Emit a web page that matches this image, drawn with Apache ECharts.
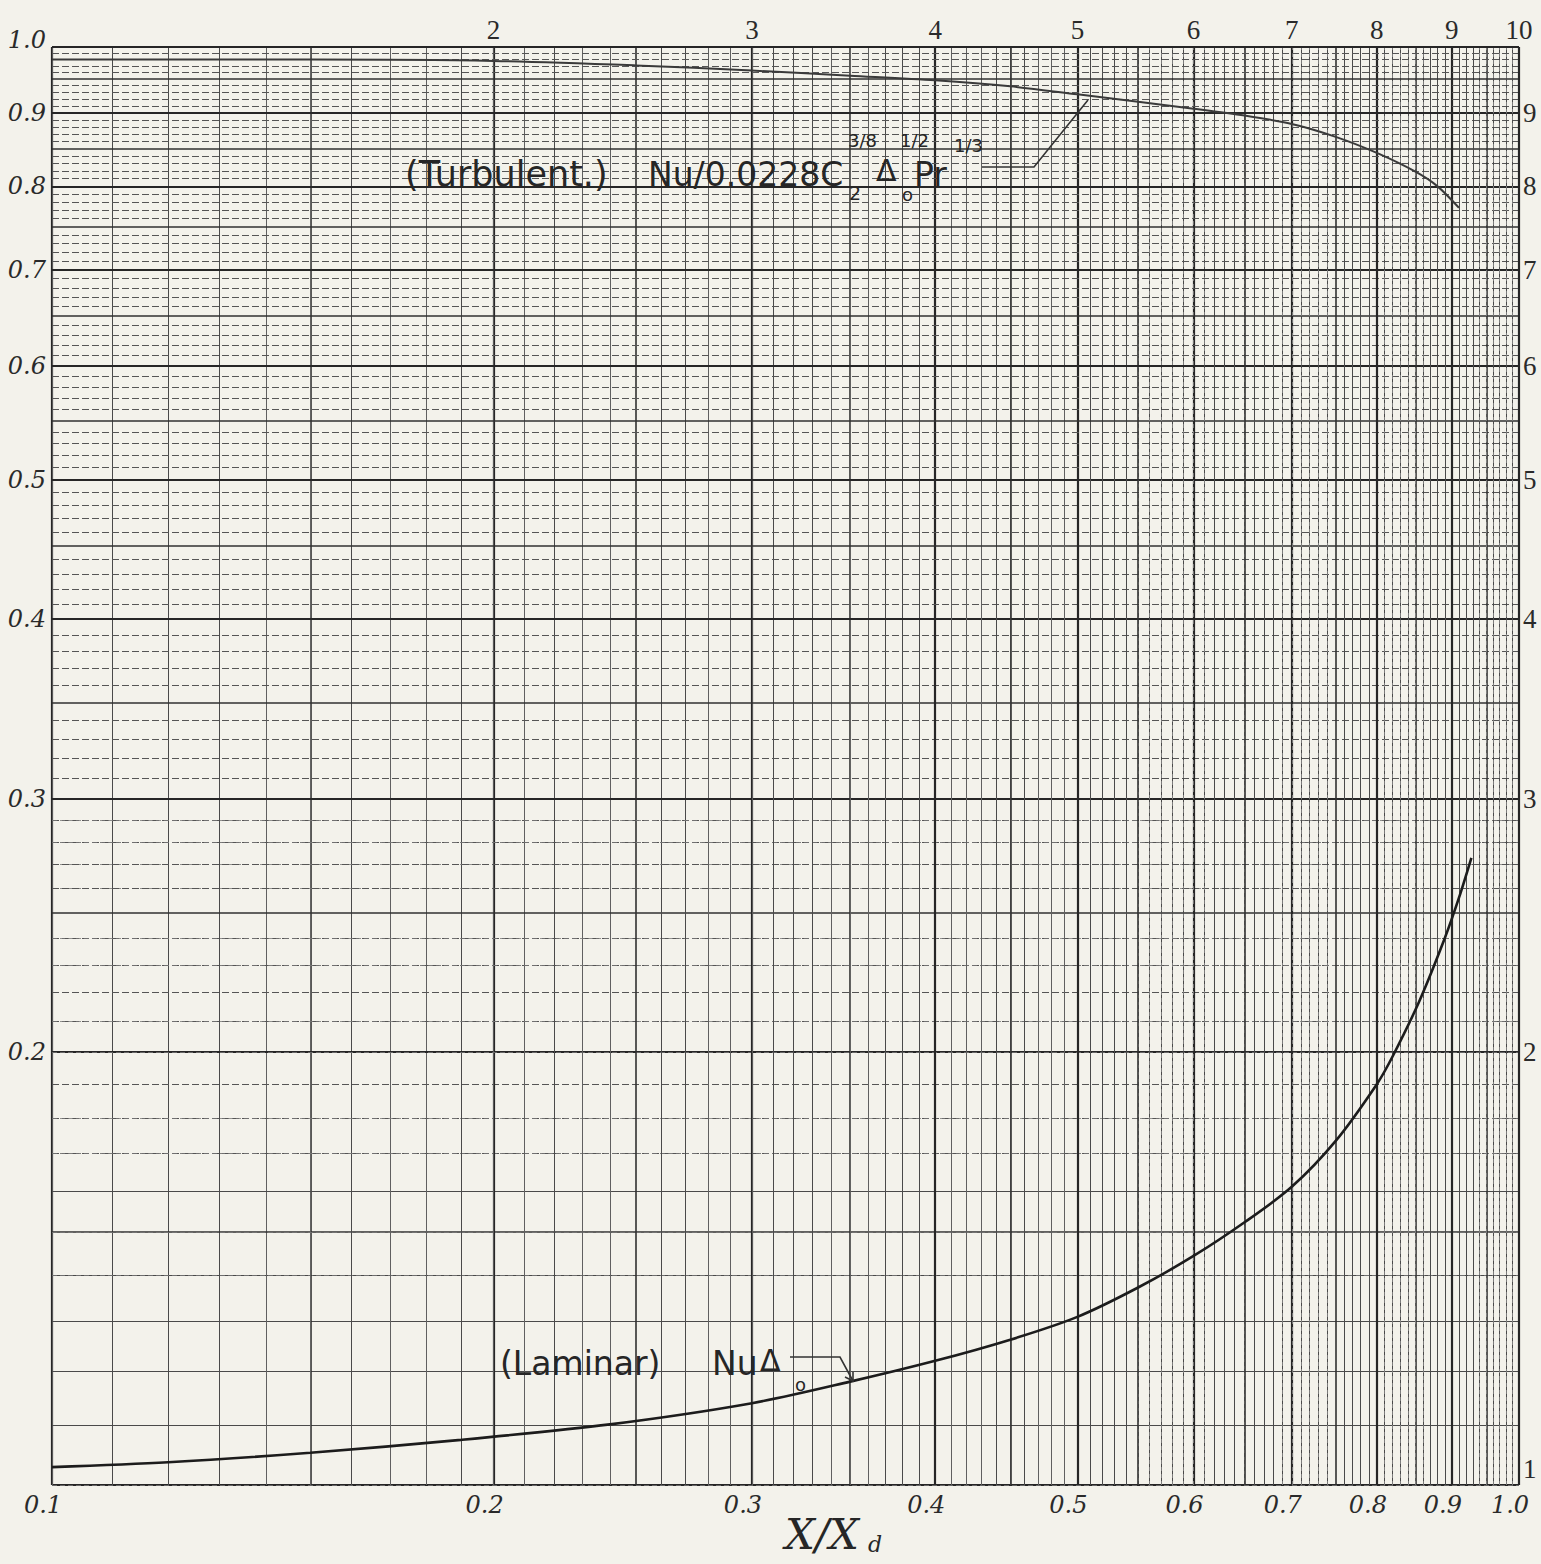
<!DOCTYPE html>
<html>
<head>
<meta charset="utf-8">
<title>Nu vs X/Xd</title>
<script src="https://cdn.jsdelivr.net/npm/echarts@6/dist/echarts.min.js"></script>
<style>
  html, body { margin: 0; padding: 0; background: #f3f2eb; }
  #chart { width: 1541px; height: 1564px; }
</style>
</head>
<body>
<div id="chart"></div>
<script>
// tick values + labels (bottom is hand written x/xd, top is the printed 1..10 scale)
var xTicks = [0.1, 0.2, 0.3, 0.4, 0.5, 0.6, 0.7, 0.8, 0.9, 1.0];
var xBottomLabels = ['0.1', '0.2', '0.3', '0.4', '0.5', '0.6', '0.7', '0.8', '0.9', '1.0'];
var xTopLabels = ['', '2', '3', '4', '5', '6', '7', '8', '9', '10'];
var yTicks = [0.1, 0.2, 0.3, 0.4, 0.5, 0.6, 0.7, 0.8, 0.9, 1.0];
var yLeftLabels = ['', '0.2', '0.3', '0.4', '0.5', '0.6', '0.7', '0.8', '0.9', '1.0'];
var yRightLabels = ['1', '2', '3', '4', '5', '6', '7', '8', '9', ''];

// curves
var turbX = [0.1, 0.15, 0.2, 0.25, 0.3, 0.35, 0.4, 0.45, 0.5, 0.55, 0.6, 0.65, 0.7, 0.75, 0.8, 0.85, 0.88, 0.91];
var turbY = [0.980, 0.980, 0.978, 0.971, 0.963, 0.955, 0.948, 0.939, 0.927, 0.916, 0.906, 0.896, 0.884, 0.866, 0.844, 0.819, 0.800, 0.773];
var lamX = [0.1, 0.12, 0.15, 0.19, 0.24, 0.3, 0.35, 0.4, 0.45, 0.5, 0.55, 0.6, 0.65, 0.7, 0.75, 0.8, 0.82, 0.855, 0.89, 0.91, 0.928];
var lamY = [0.1029, 0.1037, 0.1053, 0.1075, 0.1102, 0.1140, 0.1180, 0.1220, 0.1262, 0.1309, 0.1372, 0.1443, 0.1523, 0.1612, 0.1735, 0.1900, 0.1986, 0.2169, 0.2400, 0.2560, 0.2730];

function zip(a, b) {
  return a.map(function (v, i) { return [v, b[i]]; });
}

var handFont = { fontFamily: 'DejaVu Serif', fontStyle: 'italic', fontSize: 24, color: '#2a2a2a' };
var printFont = { fontFamily: 'Liberation Serif', fontSize: 27, color: '#2a2a2a' };
var hidden = { color: 'rgba(0,0,0,0)', width: 0 };

// graph paper rulings, k in thousandths
function rulingStyle(k, horizontal) {
  if (k % 100 === 0) return { color: '#262626', width: 2.2, type: 'solid' };
  if (k % 50 === 0) return { color: '#303030', width: 1.6, type: 'solid' };
  if (k % 10 === 0) {
    if (!horizontal || k < 170) return { color: '#4a4a4a', width: 1, type: 'solid' };
    return { color: '#555', width: 1, type: [7, 3] };
  }
  if (horizontal) return k < 300 ? { color: '#777', width: 0.8, type: [5, 3] } : null;
  if (k < 500) return { color: '#666', width: 0.8, type: 'solid' };
  return { color: '#888', width: 0.8, type: [4, 3] };
}

var rules = [];
for (var k = 100; k <= 1000; k += 5) {
  var sx = rulingStyle(k, false);
  if (sx) rules.push({ xAxis: k / 1000, lineStyle: sx });
  var sy = rulingStyle(k, true);
  if (sy) rules.push({ yAxis: k / 1000, lineStyle: sy });
}

function lbl(pos, text, font, distance, offset) {
  return Object.assign({ show: true, position: pos, formatter: text, distance: distance, offset: offset || [0, 0] }, font);
}

xTicks.forEach(function (v, i) {
  rules.push({ xAxis: v, lineStyle: hidden, label: lbl('start', xBottomLabels[i], handFont, 8, [-9, 0]) });
  if (xTopLabels[i]) {
    rules.push({ xAxis: v, lineStyle: hidden, label: lbl('end', xTopLabels[i], printFont, 4) });
  }
});
yTicks.forEach(function (v, i) {
  if (yLeftLabels[i]) {
    rules.push({ yAxis: v, lineStyle: hidden, label: lbl('start', yLeftLabels[i], handFont, 6, i === 9 ? [0, -7] : null) });
  }
  if (yRightLabels[i]) {
    rules.push({ yAxis: v, lineStyle: hidden, label: lbl('end', yRightLabels[i], printFont, 4, i === 0 ? [0, -16] : null) });
  }
});

function note(x, y, text, size, extra) {
  return {
    type: 'text', x: x, y: y, z: 10, silent: true,
    style: Object.assign({ text: text, fontFamily: 'DejaVu Sans', fontSize: size, fill: '#262626', verticalAlign: 'middle' }, extra || {})
  };
}
function leader(points) {
  return { type: 'polyline', z: 10, silent: true, shape: { points: points }, style: { stroke: '#333', lineWidth: 1.6, fill: null } };
}
var titleFont = { fontFamily: 'DejaVu Serif', fontStyle: 'italic' };

var myChart = echarts.init(document.getElementById('chart'), null, { renderer: 'svg' });
var option = {
  backgroundColor: '#f3f2eb',
  animation: false,
  grid: { left: 52, top: 47, width: 1467, height: 1438 },
  xAxis: {
    type: 'log', logBase: 10, min: 0.1, max: 1,
    axisLine: { show: false }, axisTick: { show: false }, axisLabel: { show: false }, splitLine: { show: false }
  },
  yAxis: {
    type: 'log', logBase: 10, min: 0.1, max: 1,
    axisLine: { show: false }, axisTick: { show: false }, axisLabel: { show: false }, splitLine: { show: false }
  },
  series: [
    {
      name: 'rulings', type: 'line', data: [], silent: true,
      markLine: {
        silent: true, symbol: ['none', 'none'], animation: false, z: 1,
        label: { show: false }, emphasis: { disabled: true },
        data: rules
      }
    },
    {
      name: 'Turbulent', type: 'line', data: zip(turbX, turbY), z: 3,
      smooth: 0.3, showSymbol: false, silent: true,
      lineStyle: { color: '#3a3a3a', width: 2 }
    },
    {
      name: 'Laminar', type: 'line', data: zip(lamX, lamY), z: 3,
      smooth: 0.3, showSymbol: false, silent: true,
      lineStyle: { color: '#1c1c1c', width: 2.6 }
    }
  ],
  graphic: [
    // turbulent label
    note(405, 174, '(Turbulent.)', 35),
    note(648, 174, 'Nu/0.0228C', 33),
    note(848, 140, '3/8', 18),
    note(849, 193, '2', 19),
    note(876, 170, 'Δ', 30),
    note(900, 140, '1/2', 18),
    note(902, 194, 'o', 18),
    note(914, 174, 'Pr', 33),
    note(954, 145, '1/3', 18),
    leader([[982, 167], [1034, 167], [1088, 100]]),
    // laminar label
    note(500, 1363, '(Laminar)', 33),
    note(712, 1363, 'Nu', 33),
    note(760, 1360, 'Δ', 30),
    note(795, 1384, 'o', 18),
    leader([[790, 1357], [840, 1357], [853, 1381]]),
    leader([[845, 1377], [853, 1381], [853, 1372]]),
    // axis title
    note(785, 1534, 'X/X', 42, titleFont),
    note(868, 1544, 'd', 22, titleFont)
  ]
};
myChart.setOption(option);
</script>
</body>
</html>
